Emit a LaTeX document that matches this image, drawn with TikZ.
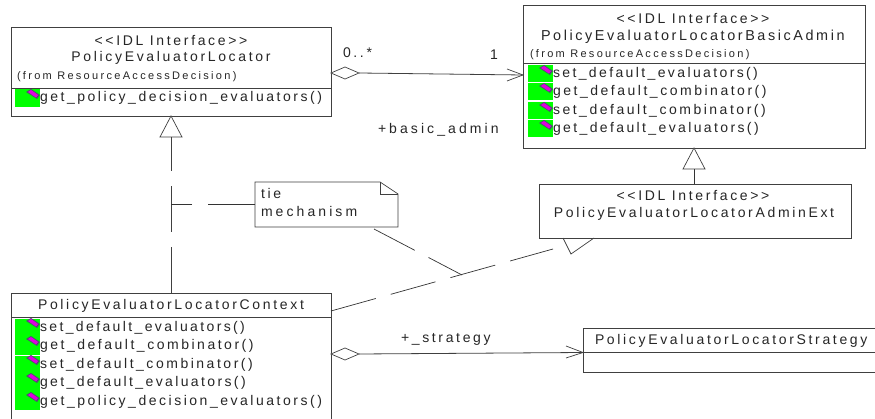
\documentclass[tikz,border=0pt]{standalone}
\usepackage{fontspec}
\setmainfont{Liberation Sans}
\newfontfamily\umlfont[LetterSpace=19]{Liberation Sans}
\newfontfamily\umlmeth[LetterSpace=17]{Liberation Sans}
\newfontfamily\umlmid[LetterSpace=18]{Liberation Sans}
\newfontfamily\umlwide[LetterSpace=22]{Liberation Sans}
\newfontfamily\umlsmall[LetterSpace=21]{Liberation Sans}
\usetikzlibrary{calc}
\definecolor{edge}{HTML}{404040}
\definecolor{iconpink}{HTML}{E000E0}
\definecolor{icondark}{HTML}{505070}
\tikzset{
  x=1pt,y=-1pt,
  every node/.style={inner sep=0pt,outer sep=0pt},
  classbox/.style={draw=edge,line width=0.9pt,fill=white,rectangle,anchor=north west},
  txt/.style={font=\umlfont\fontsize{14}{16}\selectfont,text=black!85},
  meth/.style={font=\umlmeth\fontsize{14}{16}\selectfont,text=black!85,anchor=west},
  methmid/.style={font=\umlmid\fontsize{14}{16}\selectfont,text=black!85,anchor=west},
  namefit/.style={font=\umlmid\fontsize{14.4}{16}\selectfont,text=black!85,anchor=west},
  wide/.style={font=\umlwide\fontsize{14}{16}\selectfont,text=black!85,anchor=west},
  sml/.style={font=\umlsmall\fontsize{11}{13}\selectfont,text=black!85},
  link/.style={draw=edge,line width=0.8pt},
  thin link/.style={draw=black!80,line width=0.7pt},
  gaps/.style={dash pattern=on 46.5pt off 15.5pt},
  hollow/.style={draw=black!75,line width=0.7pt,fill=white},
  open/.style={draw=black!75,line width=0.7pt},
}
\newcommand{\greenbar}[3]{\fill[fill=green] (#1,#2) rectangle (#1+25,#3);}
\newcommand{\pinkmark}[2]{%
  \fill[icondark] (#1-7,#2-2) -- (#1-2,#2-5) -- (#1+7,#2+1) -- (#1+4,#2+5) -- cycle;
  \fill[iconpink] (#1-5,#2-2) -- (#1-2,#2-4) -- (#1+5,#2+1) -- (#1+3,#2+3.5) -- cycle;}
\begin{document}
\begin{tikzpicture}
\useasboundingbox (0,0) rectangle (875,419);
\clip (0,0) rectangle (875,419);
\fill[white] (0,0) rectangle (875,419);

% class boxes
\node[classbox,minimum width=320pt,minimum height=89pt] (locator) at (11,27) {};
\node[classbox,minimum width=342pt,minimum height=143pt] (basic) at (523,5) {};
\node[classbox,minimum width=312pt,minimum height=54pt] (ext) at (539,184) {};
\node[classbox,minimum width=320pt,minimum height=140pt] (context) at (11,293) {};
\node[classbox,minimum width=310pt,minimum height=44pt] (strategy) at (583,328) {};

% note
\coordinate (noteA) at (255,182);
\coordinate (noteB) at (380,182);
\coordinate (noteC) at (398,194);
\coordinate (noteD) at (398,227);
\coordinate (noteE) at (255,227);
\coordinate (noteF) at (380,194);
\draw[open,fill=white] (noteA) -- (noteB) -- (noteC) -- (noteD) -- (noteE) -- cycle;
\draw[open] (noteB) -- (noteF) -- (noteC);

% compartments
\draw[link] (11,88) -- (331,88);
\draw[link] (523,63) -- (865,63);
\draw[link] (11,317) -- (331,317);
\draw[link] (583,352) -- (875,352);

% icons
\greenbar{15}{89}{107}
\pinkmark{33}{94}
\foreach \a/\b/\p in {65/82/70,83/100/88,102/119/107,120/137/125}{
  \greenbar{528}{\a}{\b}
  \pinkmark{546}{\p}
}
\greenbar{15}{319}{355}
\greenbar{15}{356}{410}
\foreach \p in {323,341,360,378,397}{\pinkmark{33}{\p}}

% texts
\node[txt] (t1) at (171,41) {<<IDL Interface>>};
\node[txt] (t2) at (171,58) {PolicyEvaluatorLocator};
\node[sml,anchor=west] (t3) at (17,77) {(from ResourceAccessDecision)};
\node[methmid] (t4) at (40,98) {get\_policy\_decision\_evaluators()};

\node[txt] (b1) at (693,19) {<<IDL Interface>>};
\node[namefit] (b2) at (541,37) {PolicyEvaluatorLocatorBasicAdmin};
\node[sml,anchor=west] (b3) at (530,55) {(from ResourceAccessDecision)};
\node[meth] (b4) at (553,74) {set\_default\_evaluators()};
\node[methmid] (b5) at (553,92) {get\_default\_combinator()};
\node[methmid] (b6) at (553,111) {set\_default\_combinator()};
\node[meth] (b7) at (553,129) {get\_default\_evaluators()};

\node[txt] (e1) at (693,196) {<<IDL Interface>>};
\node[txt] (e2) at (694,214) {PolicyEvaluatorLocatorAdminExt};

\node[txt] (c1) at (171,306) {PolicyEvaluatorLocatorContext};
\node[meth] (c2) at (40,328) {set\_default\_evaluators()};
\node[methmid] (c3) at (40,346) {get\_default\_combinator()};
\node[methmid] (c4) at (40,365) {set\_default\_combinator()};
\node[meth] (c5) at (40,383) {get\_default\_evaluators()};
\node[methmid] (c6) at (40,402) {get\_policy\_decision\_evaluators()};

\node[txt,anchor=west] (s1) at (595,341) {PolicyEvaluatorLocatorStrategy};

\node[txt,anchor=west] (n1) at (261,193) {tie};
\node[wide] (n2) at (261,211) {mechanism};

\node[txt,anchor=west] (l1) at (343,53) {0..*};
\node[txt] (l2) at (494,55) {1};
\node[wide] (l3) at (378,130) {+basic\_admin};
\node[txt,anchor=west] (l4) at (401,339) {+\_strategy};

% association: locator -> basic
\coordinate (a0) at (locator.north east |- 0,73);
\coordinate (a1) at (359,73);
\coordinate (a2) at (basic.north west |- 0,75);
\coordinate (a3) at (507,69);
\coordinate (a4) at (507,81);
\draw[link] (a1) -- (a2);
\draw[open] (a3) -- (a2) -- (a4);
\draw[hollow] (a0) -- (345,67) -- (a1) -- (345,79) -- cycle;

% association: context -> strategy
\coordinate (d0) at (context.north east |- 0,354);
\coordinate (d1) at (359,354);
\coordinate (d2) at (strategy.north west |- 0,352.5);
\coordinate (d3) at (566,346);
\coordinate (d4) at (566,358);
\draw[link] (d1) -- (d2);
\draw[open] (d3) -- (d2) -- (d4);
\draw[hollow] (d0) -- (345,348) -- (d1) -- (345,360) -- cycle;

% realization: context -> locator
\coordinate (r0) at (context.north west -| 171,0);
\coordinate (r1) at (171,137);
\coordinate (r2) at (171,116);
\draw[link,dash pattern=on 46pt off 15pt] (r0) -- (r1);
\draw[hollow] (r2) -- (160,137) -- (182,137) -- cycle;

% realization: basic <- ext
\coordinate (g0) at (694,184);
\coordinate (g1) at (694,169);
\coordinate (g2) at (694,148);
\draw[thin link] (g0) -- (g1);
\draw[hollow] (g2) -- (683,169) -- (705,169) -- cycle;

% realization: context -> ext
\coordinate (k0) at (331,311);
\coordinate (k1) at (553,249);
\draw[thin link,gaps] (k0) -- (k1);
\draw[open] (563,238) -- (571,254) -- (594,238);

% note anchors
\coordinate (j1) at (171,204);
\coordinate (j2) at (255,204);
\draw[thin link,dash pattern=on 47pt off 16pt] (j2) -- (j1);
\coordinate (m1) at (374,229);
\coordinate (m2) at (462,275);
\draw[thin link,dash pattern=on 46pt off 15.5pt] (m1) -- (m2);
\end{tikzpicture}
\end{document}
